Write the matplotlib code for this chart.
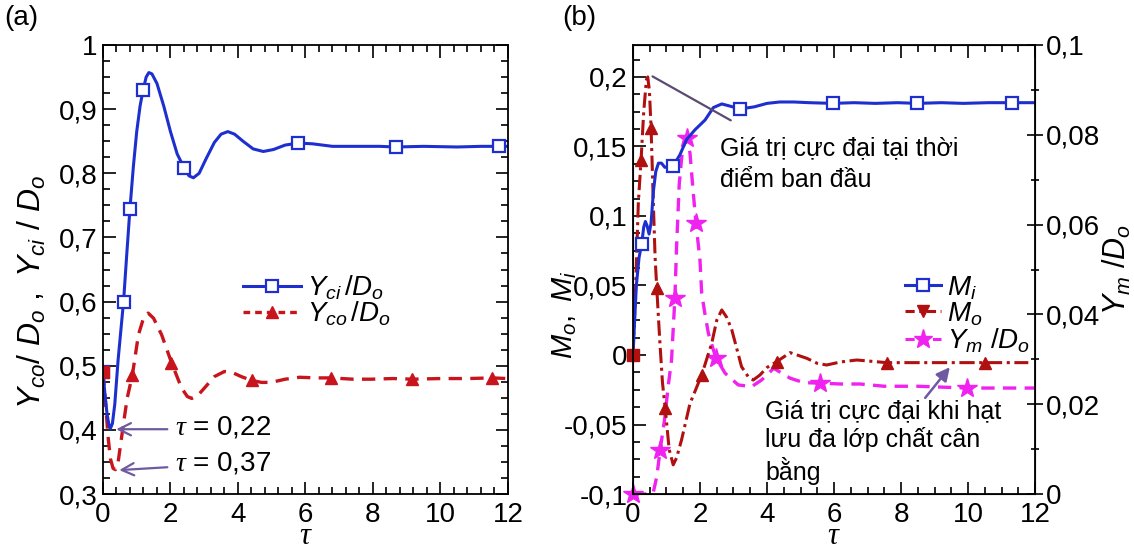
import matplotlib
matplotlib.use("Agg")
import matplotlib.pyplot as plt
from matplotlib.lines import Line2D
from matplotlib.ticker import MultipleLocator, FuncFormatter

# (a) Y_ci / D_o  (solid blue, squares)
tau_ci = [0, 0.06, 0.12, 0.18, 0.22, 0.28, 0.35, 0.45, 0.61, 0.70, 0.80, 0.90, 1.0, 1.1,
          1.19, 1.28, 1.36, 1.45, 1.6, 1.8, 2.0, 2.2, 2.41, 2.55, 2.68, 2.85, 3.05, 3.3,
          3.5, 3.7, 3.9, 4.15, 4.45, 4.75, 5.05, 5.4, 5.78, 6.2, 6.8, 7.5, 8.2, 8.67,
          9.5, 10.5, 11.2, 11.75, 12.0]
y_ci = [0.49, 0.455, 0.425, 0.407, 0.402, 0.41, 0.44, 0.51, 0.60, 0.67, 0.745, 0.81, 0.865,
        0.905, 0.93, 0.95, 0.957, 0.955, 0.94, 0.905, 0.865, 0.83, 0.808, 0.796, 0.793,
        0.80, 0.822, 0.848, 0.861, 0.865, 0.861, 0.85, 0.838, 0.834, 0.837, 0.844, 0.847,
        0.846, 0.842, 0.842, 0.842, 0.841, 0.842, 0.841, 0.842, 0.842, 0.842]
tau_ci_mk = [0, 0.61, 0.80, 1.19, 2.41, 5.78, 8.67, 11.75]
y_ci_mk = [0.49, 0.60, 0.745, 0.93, 0.808, 0.847, 0.841, 0.842]

# (a) Y_co / D_o  (dashed red, triangles)
tau_co = [0, 0.08, 0.15, 0.22, 0.30, 0.37, 0.45, 0.53, 0.60, 0.72, 0.87, 1.05, 1.2, 1.34,
          1.5, 1.74, 2.03, 2.33, 2.5, 2.63, 2.8, 3.02, 3.3, 3.6, 3.85, 4.1, 4.41, 4.7,
          4.98, 5.4, 5.83, 6.3, 6.76, 7.4, 7.95, 8.6, 9.17, 10.0, 10.8, 11.53, 12.0]
y_co = [0.49, 0.44, 0.39, 0.355, 0.34, 0.338, 0.35, 0.38, 0.407, 0.45, 0.485, 0.548, 0.574,
        0.582, 0.574, 0.548, 0.505, 0.465, 0.452, 0.449, 0.453, 0.466, 0.483, 0.491, 0.489,
        0.483, 0.477, 0.474, 0.474, 0.479, 0.482, 0.481, 0.481, 0.479, 0.479, 0.48, 0.479,
        0.48, 0.48, 0.481, 0.48]
tau_co_mk = [0.87, 2.03, 4.41, 6.76, 9.17, 11.53]
y_co_mk = [0.485, 0.505, 0.477, 0.481, 0.479, 0.481]

# (b) M_i  (solid blue, squares)
tau_mi = [0, 0.05, 0.1, 0.18, 0.26, 0.32, 0.37, 0.42, 0.48, 0.54, 0.61, 0.68, 0.76, 0.85,
          0.95, 1.2, 1.4, 1.6, 1.85, 2.15, 2.4, 2.65, 2.9, 3.19, 3.62, 4.0, 4.38, 4.8,
          5.26, 5.97, 6.6, 7.23, 7.9, 8.49, 9.2, 9.86, 10.6, 11.31, 12.0]
m_i = [0, 0.025, 0.05, 0.07, 0.08, 0.092, 0.096, 0.093, 0.087, 0.095, 0.118, 0.132, 0.138,
       0.138, 0.135, 0.136, 0.144, 0.155, 0.162, 0.169, 0.178, 0.1806, 0.179, 0.177,
       0.1785, 0.181, 0.182, 0.182, 0.1815, 0.181, 0.1815, 0.181, 0.1815, 0.181, 0.1815,
       0.181, 0.1815, 0.1815, 0.1815]
tau_mi_mk = [0.26, 1.2, 3.19, 5.97, 8.49, 11.31]
m_i_mk = [0.08, 0.136, 0.177, 0.181, 0.181, 0.1815]

# (b) M_o  (dash-dot dark red, triangles)
tau_mo = [0, 0.08, 0.16, 0.24, 0.32, 0.40, 0.44, 0.49, 0.54, 0.61, 0.66, 0.71, 0.80, 0.88,
          0.96, 1.08, 1.2, 1.3, 1.45, 1.7, 2.05, 2.35, 2.5, 2.65, 2.8, 2.95, 3.24, 3.45,
          3.59, 3.79, 4.0, 4.29, 4.69, 5.19, 5.5, 5.78, 6.2, 6.68, 7.1, 7.57, 8.5, 9.55,
          10.5, 11.8]
m_o = [0, 0.05, 0.11, 0.14, 0.175, 0.198, 0.2, 0.19, 0.163, 0.107, 0.07, 0.048, 0.01, -0.02,
       -0.038, -0.068, -0.079, -0.074, -0.061, -0.035, -0.0144, 0.0084, 0.025, 0.0324,
       0.027, 0.018, -0.0084, -0.016, -0.018, -0.0144, -0.009, -0.0048, 0.0017, -0.0024,
       -0.006, -0.0072, -0.005, -0.0036, -0.0045, -0.0055, -0.0055, -0.0055, -0.0055,
       -0.0055]
tau_mo_mk = [0.24, 0.54, 0.71, 0.96, 2.05, 4.29, 7.57, 10.5]
m_o_mk = [0.14, 0.163, 0.048, -0.038, -0.0144, -0.0048, -0.0055, -0.0055]

# (b) Y_m / D_o  (dashed magenta, stars, right axis)
tau_ym = [0, 0.3, 0.55, 0.61, 0.71, 0.81, 0.95, 1.05, 1.15, 1.25, 1.30, 1.38, 1.48, 1.6,
          1.7, 1.8, 1.88, 2.0, 2.05, 2.15, 2.25, 2.47, 2.75, 3.14, 3.54, 3.84, 4.2, 4.69,
          5.1, 5.58, 6.2, 6.78, 7.5, 8.5, 9.97, 11.0, 12.0]
y_m = [0, 0, 0, 0.0005, 0.0039, 0.0098, 0.017, 0.024, 0.0298, 0.0436, 0.055, 0.069, 0.077,
       0.0792, 0.076, 0.067, 0.0603, 0.052, 0.0447, 0.04, 0.0358, 0.0304, 0.0269, 0.0243,
       0.0239, 0.0254, 0.028, 0.0258, 0.0248, 0.0247, 0.0245, 0.0245, 0.024, 0.024,
       0.0236, 0.0236, 0.0236]
tau_ym_mk = [0, 0.81, 1.25, 1.6, 1.88, 2.47, 5.58, 9.97]
y_m_mk = [0, 0.0098, 0.0436, 0.0792, 0.0603, 0.0304, 0.0247, 0.0236]

plt.rcParams['font.family'] = ['Liberation Sans', 'DejaVu Sans']
plt.rcParams['mathtext.fontset'] = 'custom'
plt.rcParams['mathtext.rm'] = 'Liberation Sans'
plt.rcParams['mathtext.it'] = 'Liberation Sans:italic'
plt.rcParams['mathtext.cal'] = 'Liberation Serif:italic'

BLUE = '#1e2fd0'
RED = '#c8141c'
DRED = '#b01010'
MAG = '#f022f0'
ARROW = '#6e5aa0'


def comma(v, pos):
    v = round(v, 6) + 0.0
    return f"{v:g}".replace('.', ',')


def style(ax, xminor, yminor, right=True):
    ax.set_xlim(0, 12)
    ax.xaxis.set_major_locator(MultipleLocator(2))
    ax.xaxis.set_minor_locator(MultipleLocator(xminor))
    ax.yaxis.set_minor_locator(MultipleLocator(yminor))
    ax.xaxis.set_major_formatter(FuncFormatter(comma))
    ax.yaxis.set_major_formatter(FuncFormatter(comma))
    ax.tick_params(which='both', direction='in', top=True, right=right,
                   labelsize=20, width=1.2, pad=4)
    ax.tick_params(axis='x', pad=6)
    ax.tick_params(which='major', length=9)
    ax.tick_params(which='minor', length=5)
    for s in ax.spines.values():
        s.set_linewidth(1.3)
    ax.set_xlabel(r'$\mathcal{\tau}$', fontsize=22, labelpad=-5)


fig = plt.figure(figsize=(11.34, 5.5), dpi=100)
ax1 = fig.add_axes([0.0908, 0.1018, 0.3571, 0.8164])
ax2 = fig.add_axes([0.5582, 0.1018, 0.3545, 0.8164])

# ---- panel (a)
ax1.plot(tau_co, y_co, color=RED, lw=2.4, ls=(0, (4, 2.5)))
ax1.plot(tau_co_mk, y_co_mk, ls='none', marker='^', ms=9, color=RED)
ax1.plot(tau_ci, y_ci, color=BLUE, lw=2.2)
ax1.plot(tau_ci_mk, y_ci_mk, ls='none', marker='s', ms=8, mfc='white', mec=BLUE, mew=1.6)
ax1.plot(tau_co[:1], y_co[:1], ls='none', marker='s', ms=8, color=RED)
ax1.set_ylim(0.3, 1.0)
ax1.yaxis.set_major_locator(MultipleLocator(0.1))
style(ax1, 0.4, 0.025)
ax1.set_ylabel(r'$Y_{co}/\ D_o\ ,\ Y_{ci}\ /\ D_o$', fontsize=23)
ax1.yaxis.set_label_coords(-0.135, 0.45)

h1 = [Line2D([], [], color=BLUE, lw=2.2, marker='s', ms=8, mfc='white', mec=BLUE, mew=1.6),
      Line2D([], [], color=RED, lw=2.4, ls=(0, (2, 1.5)), marker='^', ms=9)]
ax1.legend(h1, [r'$Y_{ci}\,/D_o$', r'$Y_{co}\,/D_o$'], loc='center left',
           bbox_to_anchor=(0.346, 0.43), frameon=False, fontsize=20,
           handlelength=2.1, handletextpad=0.2, labelspacing=-0.1, borderpad=0,
           borderaxespad=0)

arw = dict(arrowstyle='->', color=ARROW, lw=1.6, mutation_scale=22)
ax1.annotate('', xy=(0.31, 0.401), xytext=(1.99, 0.401), arrowprops=arw)
ax1.annotate('', xy=(0.40, 0.337), xytext=(1.99, 0.342), arrowprops=arw)
ax1.text(2.13, 0.404, r'$\mathcal{\tau}$ = 0,22', va='center', fontsize=20)
ax1.text(2.13, 0.347, r'$\mathcal{\tau}$ = 0,37', va='center', fontsize=20)

# ---- panel (b)
ax3 = ax2.twinx()
ax3.plot(tau_ym, y_m, color=MAG, lw=2.4, ls=(0, (4, 2.5)))
ax3.plot(tau_ym_mk, y_m_mk, ls='none', marker='*', ms=15, color=MAG, clip_on=False)
ax3.set_ylim(0, 0.1)
ax3.yaxis.set_major_locator(MultipleLocator(0.02))
ax3.yaxis.set_minor_locator(MultipleLocator(0.01))
ax3.yaxis.set_major_formatter(FuncFormatter(comma))
ax3.tick_params(which='both', direction='inout', labelsize=20, width=1.2, pad=2)
ax3.tick_params(which='major', length=12)
ax3.tick_params(which='minor', length=6)
ax3.set_ylabel(r'$Y_m\ /D_o$', fontsize=22)
ax3.yaxis.set_label_coords(1.163, 0.5)

ax2.set_zorder(ax3.get_zorder() + 1)
ax2.patch.set_visible(False)
ax2.plot(tau_mo, m_o, color=DRED, lw=2.2, ls=(0, (5, 1.5, 1, 1.5)))
ax2.plot(tau_mo_mk, m_o_mk, ls='none', marker='^', ms=9, color=DRED)
ax2.plot(tau_mi, m_i, color=BLUE, lw=2.2)
ax2.plot(tau_mi_mk, m_i_mk, ls='none', marker='s', ms=8, mfc='white', mec=BLUE, mew=1.6)
ax2.plot(tau_mo[:1], m_o[:1], ls='none', marker='s', ms=8, color=DRED, clip_on=False)
ax2.set_ylim(-0.1, 0.223)
ax2.yaxis.set_major_locator(MultipleLocator(0.05))
style(ax2, 0.5, 0.0125, right=False)
ax2.set_ylabel(r'$M_o,\ M_i$', fontsize=21)
ax2.yaxis.set_label_coords(-0.135, 0.4)

h2 = [Line2D([], [], color=BLUE, lw=2.2, marker='s', ms=8, mfc='white', mec=BLUE, mew=1.6),
      Line2D([], [], color=DRED, lw=2.2, ls=(0, (3, 1.5, 1, 1.5)), marker='v', ms=9),
      Line2D([], [], color=MAG, lw=2.2, ls=(0, (3, 1.5)), marker='*', ms=14)]
ax2.legend(h2, [r'$M_i$', r'$M_o$', r'$Y_m\ /D_o$'], loc='center left',
           bbox_to_anchor=(0.677, 0.4), frameon=False, fontsize=20,
           handlelength=1.3, handletextpad=0.2, labelspacing=-0.05, borderpad=0,
           borderaxespad=0)

ax2.annotate('', xy=(0.51, 0.2014), xytext=(2.99, 0.1678),
             arrowprops=dict(arrowstyle='-', color='#5b4a72', lw=1.6))
ax2.text(2.6, 0.1575, 'Giá trị cực đại tại thời\nđiểm ban đầu', va='top',
         fontsize=18, linespacing=1.4)
ax2.annotate('', xy=(9.51, -0.0072), xytext=(8.67, -0.0324),
             arrowprops=dict(arrowstyle='-|>', color=ARROW, lw=1.8, mutation_scale=20))
ax2.text(3.95, -0.032, 'Giá trị cực đại khi hạt\nlưu đa lớp chất cân\nbằng', va='top',
         fontsize=18, linespacing=1.2)

fig.text(0.004, 0.967, '(a)', fontsize=20, va='center')
fig.text(0.496, 0.967, '(b)', fontsize=20, va='center')

fig.savefig('out.png', dpi=100)
